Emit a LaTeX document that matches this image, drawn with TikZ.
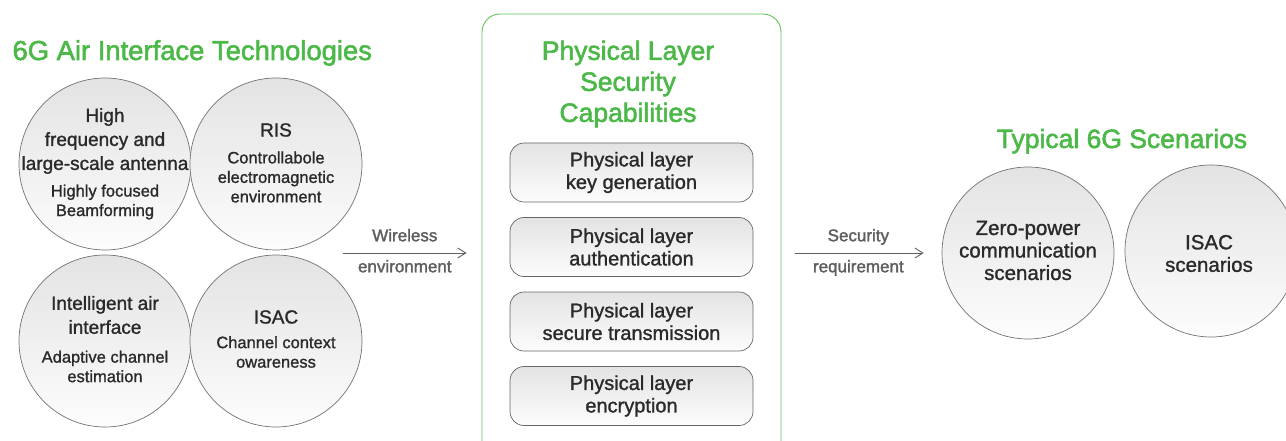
\documentclass[tikz,border=0pt]{standalone}
\usepackage{fontspec}
\setmainfont{Liberation Sans}
\usetikzlibrary{arrows.meta}

\definecolor{brandgreen}{HTML}{4CB848}
\definecolor{framegreen}{HTML}{62C25E}
\definecolor{inktext}{HTML}{2A2A2A}
\definecolor{flowgray}{HTML}{5E5E5E}

% thicken glyphs a little by filling and stroking them
\newcommand\strokeon[1]{\special{pdf:literal direct 2 Tr #1 w}}
\newcommand\strokeoff{\special{pdf:literal direct 0 Tr}}

\tikzset{
  heavier/.style={execute at end node=\strokeoff},
  bubble/.style={circle, draw=black!55, line width=0.7pt, minimum size=172pt,
    inner sep=0pt, top color=black!11, bottom color=black!1},
  capbox/.style={rectangle, rounded corners=14pt, draw=black!60, line width=0.7pt,
    minimum width=243pt, minimum height=59pt, inner sep=0pt,
    top color=black!11, bottom color=black!1, text=inktext, align=center,
    font=\fontsize{20}{22.5}\selectfont\strokeon{0.25}, heavier},
  head/.style={align=center, text=inktext, heavier,
    font=\fontsize{19}{24}\selectfont\strokeon{0.25}},
  sub/.style={align=center, text=inktext, heavier,
    font=\fontsize{16.5}{19.5}\selectfont\strokeon{0.2}},
  scen/.style={align=center, text=inktext, heavier,
    font=\fontsize{20.5}{22.5}\selectfont\strokeon{0.25}},
  flow/.style={draw=flowgray, line width=0.9pt, -{Straight Barb[length=8pt,width=10pt]}},
  flowlabel/.style={text=flowgray, heavier,
    font=\fontsize{17}{20}\selectfont\strokeon{0.3},
    text height=12pt, text depth=3.5pt, inner sep=0pt},
  grouptitle/.style={text=brandgreen, align=center, heavier,
    font=\fontsize{26.5}{31}\selectfont\strokeon{0.55}},
}

\begin{document}
\begin{tikzpicture}[x=1pt, y=-1pt]
\useasboundingbox (0,0) rectangle (1286,441);

% ---------- 6G air interface technologies ----------
\node[grouptitle, anchor=base west, font=\fontsize{27.4}{31}\selectfont\strokeon{0.55}]
  (airtitle) at (9,60) {6G Air Interface Technologies};

\node[bubble] (c1) at (105,164) {};
\node[bubble] (c2) at (276,164) {};
\node[bubble] (c3) at (105,341) {};
\node[bubble] (c4) at (276,341) {};

\node[head] (c1h) at (105,141) {High\\frequency and\\large-scale antenna};
\node[sub]  (c1s) at (105,202) {Highly focused\\Beamforming};

\node[head] (c2h) at (276,130) {RIS};
\node[sub]  (c2s) at (276,177) {Controllabole\\electromagnetic\\environment};

\node[head] (c3h) at (105,315) {Intelligent air\\interface};
\node[sub]  (c3s) at (105,366.5) {Adaptive channel\\estimation};

\node[head] (c4h) at (276,317) {ISAC};
\node[sub]  (c4s) at (276,352) {Channel context\\owareness};

% ---------- physical layer security capabilities ----------
\node[draw=framegreen, line width=0.9pt, rounded corners=18pt, rectangle,
      minimum width=299pt, minimum height=456pt, inner sep=0pt] (plbox) at (631.5,242) {};
\node[grouptitle] (pltitle) at (628,84) {Physical Layer\\Security\\Capabilities};

\node[capbox] (k1) at (631.5,172.5) {Physical layer\\key generation};
\node[capbox] (k2) at (631.5,247)   {Physical layer\\authentication};
\node[capbox] (k3) at (631.5,321.5) {Physical layer\\secure transmission};
\node[capbox] (k4) at (631.5,396)   {Physical layer\\encryption};

% ---------- typical 6G scenarios ----------
\node[grouptitle, anchor=base] (sctitle) at (1122,148) {Typical 6G Scenarios};

\node[bubble] (s1) at (1028,253) {};
\node[bubble] (s2) at (1211,251) {};
\node[scen] (s1t) at (1028,250.5) {Zero-power\\communication\\scenarios};
\node[scen] (s2t) at (1209,253.5) {ISAC\\scenarios};

% ---------- connectors ----------
\coordinate (w0) at (343,253);
\draw[flow, shorten >=15pt] (w0) -- (plbox.west |- w0)
  node[flowlabel, pos=0.446, yshift=16pt] (wl1) {Wireless}
  node[flowlabel, pos=0.446, yshift=-15pt] (wl2) {environment};

\draw[flow, shorten <=14pt, shorten >=18pt] (plbox.east |- s1.west) -- (s1.west)
  node[flowlabel, pos=0.48, yshift=16pt] (sl1) {Security}
  node[flowlabel, pos=0.48, yshift=-15pt] (sl2) {requirement};
\end{tikzpicture}
\end{document}
